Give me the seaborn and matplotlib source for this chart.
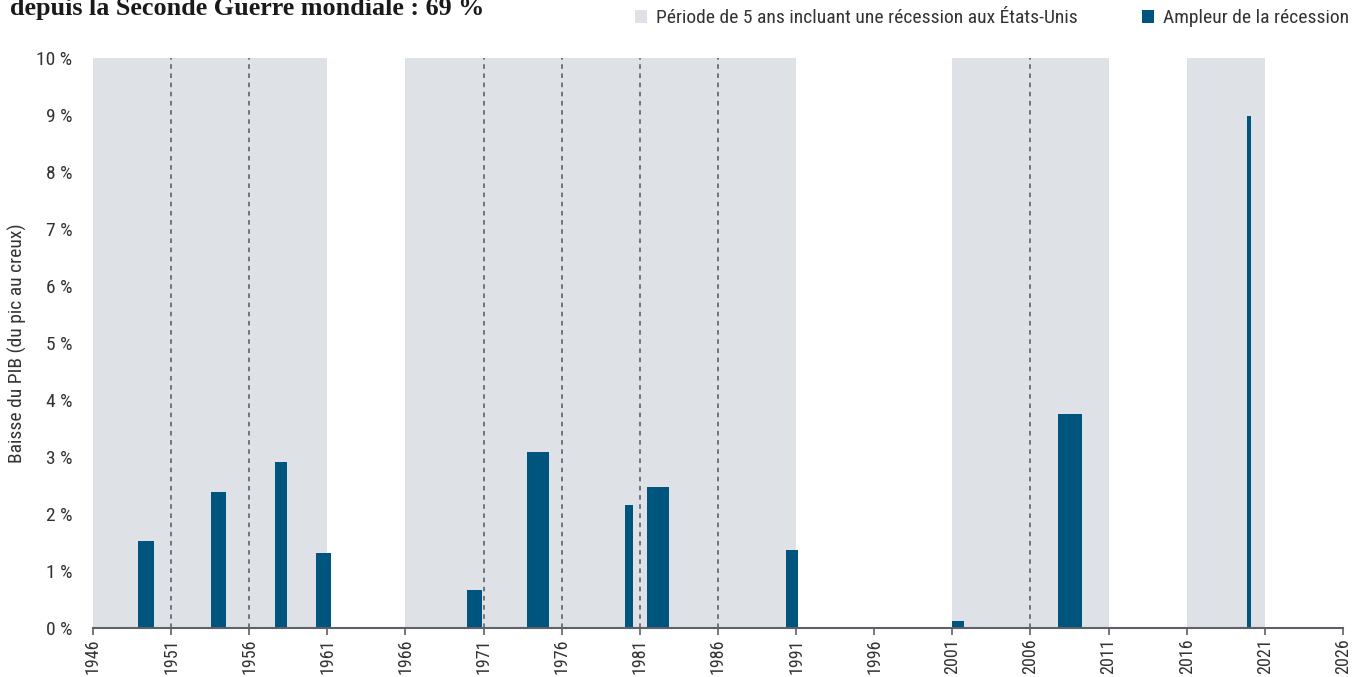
import matplotlib
matplotlib.use("Agg")
import matplotlib.pyplot as plt
from matplotlib import font_manager
from matplotlib.patches import Patch
import seaborn as sns

# %% Data
# 5-year windows (start year) that contain a US recession
period_starts = [1946, 1951, 1956, 1966, 1971, 1976, 1981, 1986, 2001, 2006, 2016]
period_len = 5

# recessions: start / end (decimal years) and GDP drop peak-to-trough (%)
rec_start = [1948.9, 1953.55, 1957.65, 1960.27, 1969.94, 1973.8, 1980.05, 1981.46, 1990.35, 2001.0, 2007.76, 2019.86]
rec_end = [1949.9, 1954.5, 1958.4, 1961.23, 1970.9, 1975.2, 1980.56, 1982.86, 1991.12, 2001.75, 2009.3, 2020.1]
rec_depth = [1.52, 2.39, 2.92, 1.32, 0.67, 3.08, 2.15, 2.48, 1.37, 0.12, 3.75, 8.98]

x_ticks = list(range(1946, 2027, 5))
y_ticks = list(range(0, 11))

title = "depuis la Seconde Guerre mondiale : 69 %"
ylabel = "Baisse du PIB (du pic au creux)"
leg_period = "Période de 5 ans incluant une récession aux États-Unis"
leg_rec = "Ampleur de la récession"

BAR = "#00557f"
SHADE = "#dee1e6"
TXT = "#333333"
AXC = "#5f6068"

# %% Style
sns.set_theme(style="white")
names = {f.name for f in font_manager.fontManager.ttflist}
sans = "Roboto Condensed" if "Roboto Condensed" in names else "Roboto"
plt.rcParams["font.family"] = [sans, "DejaVu Sans"]

fig = plt.figure(figsize=(13.52, 6.77), dpi=100)
ax = fig.add_axes([0.0688, 0.0724, 0.9245, 0.8419])

# shaded 5-year windows, dashed line where two windows touch
for s in period_starts:
    ax.axvspan(s, s + period_len, color=SHADE, lw=0, zorder=0)
    if s - period_len in period_starts:
        ax.axvline(s, color="#55565e", lw=1.1, ls=(0, (3, 3)), zorder=1)

widths = [e - s for s, e in zip(rec_start, rec_end)]
ax.bar(rec_start, rec_depth, width=widths, align="edge", color=BAR, lw=0, zorder=2)

ax.set_xlim(1946, 2026)
ax.set_ylim(0, 10)
ax.set_xticks(x_ticks)
ax.set_xticklabels([str(t) for t in x_ticks], rotation=90, fontsize=13, color=TXT)
ax.set_yticks(y_ticks)
ax.set_yticklabels([f"{v} %" for v in y_ticks], fontsize=14, color=TXT)
ax.tick_params(axis="x", direction="out", length=5, width=1.2, color=AXC, pad=2.5, bottom=True)
ax.tick_params(axis="y", length=0, pad=15)
ax.set_ylabel(ylabel, fontsize=14, color=TXT)
ax.yaxis.set_label_coords(-0.0525, 0.5)

sns.despine(ax=ax, left=True, top=True, right=True)
ax.spines["bottom"].set_color(AXC)
ax.spines["bottom"].set_linewidth(1.5)
ax.spines["bottom"].set_zorder(3)

fig.text(0.0075, 0.978, title, family="Liberation Serif", weight="bold",
         fontsize=18.8, color="#1a1a1a", va="baseline", ha="left")

handles = [Patch(facecolor=SHADE, edgecolor="none", label=leg_period),
           Patch(facecolor=BAR, edgecolor="none", label=leg_rec)]
fig.legend(handles=handles, loc="upper right", bbox_to_anchor=(1.0105, 1.012), ncol=2,
           frameon=False, fontsize=14, handlelength=0.62, handleheight=0.62,
           handletextpad=0.45, columnspacing=3.3, labelcolor=TXT)

fig.savefig("out.png", dpi=100)
